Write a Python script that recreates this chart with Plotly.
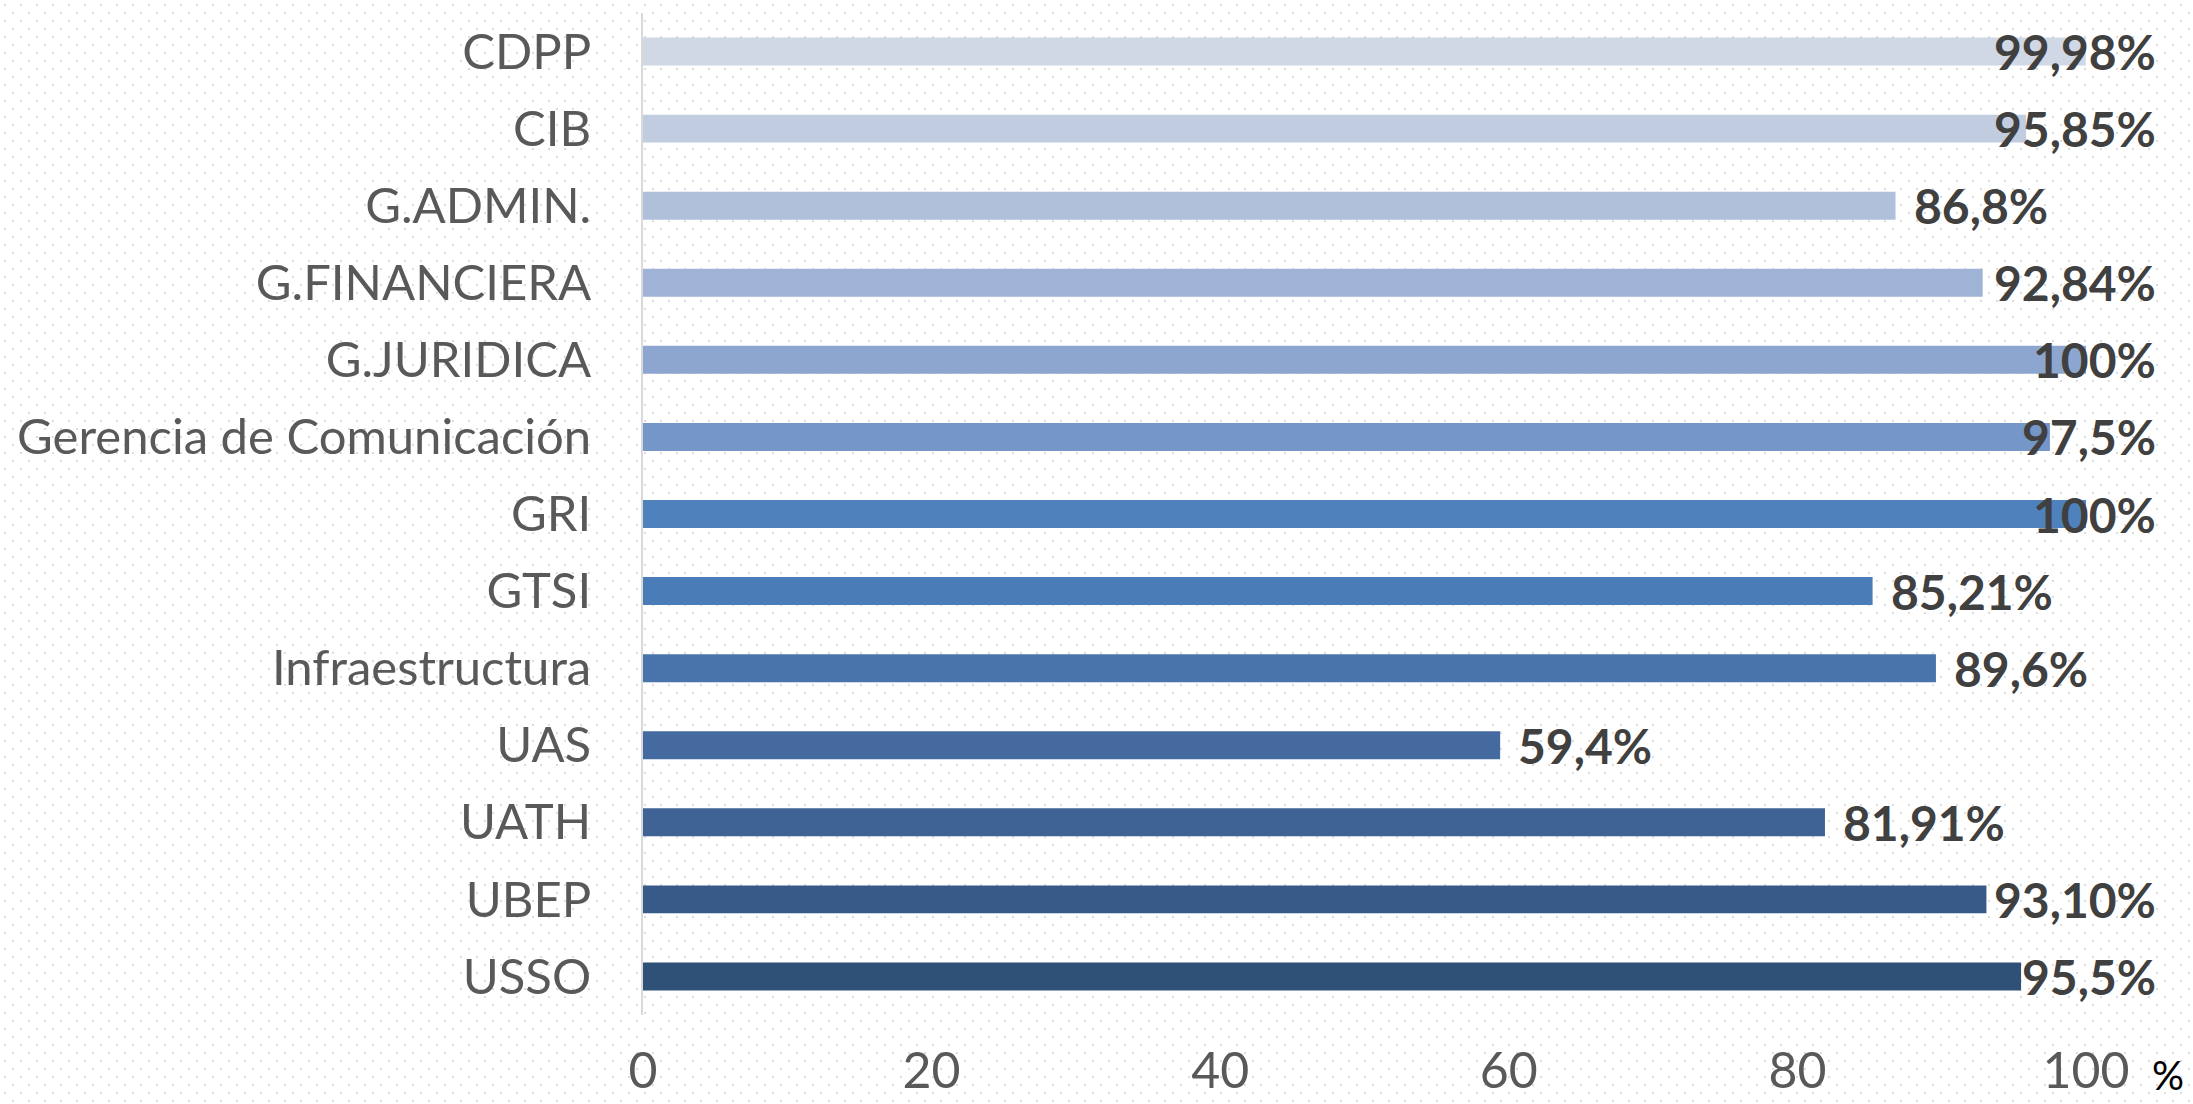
import base64
import plotly.graph_objects as go

# unidades, de arriba hacia abajo
unidades = ["CDPP", "CIB", "G.ADMIN.", "G.FINANCIERA", "G.JURIDICA",
            "Gerencia de Comunicación", "GRI", "GTSI", "Infraestructura",
            "UAS", "UATH", "UBEP", "USSO"]
valores = [99.98, 95.85, 86.8, 92.84, 100, 97.5, 100, 85.21, 89.6, 59.4, 81.91, 93.10, 95.5]
etiquetas = ["99,98%", "95,85%", "86,8%", "92,84%", "100%", "97,5%", "100%",
             "85,21%", "89,6%", "59,4%", "81,91%", "93,10%", "95,5%"]
colores = ["#D0D7E5", "#C2CCE0", "#B0C0DB", "#9FB3D6", "#8DA6CF", "#7496C8", "#4F81BD",
           "#4A7CB7", "#4874AB", "#446A9F", "#3E6394", "#385A88", "#2F5077"]
ticks_x = [0, 20, 40, 60, 80, 100]

W, H = 2193, 1104
ml, mr, mt, mb = 643, 107, 13, 89
plot_w = W - ml - mr
px_unit = plot_w / 100.0
limite = 2158 - ml  # borde derecho de las etiquetas

# fondo punteado
svg = (f'<svg xmlns="http://www.w3.org/2000/svg" width="{W}" height="{H}">'
       '<defs><pattern id="p" width="16" height="16" patternUnits="userSpaceOnUse">'
       '<rect x="4" y="4" width="2" height="2" fill="#DCDCDC"/>'
       '<rect x="12" y="12" width="2" height="2" fill="#DCDCDC"/>'
       '</pattern></defs><rect width="100%" height="100%" fill="url(#p)"/></svg>')
fondo = "data:image/svg+xml;base64," + base64.b64encode(svg.encode()).decode()

fig = go.Figure()
fig.add_trace(go.Bar(
    x=valores, y=unidades, orientation="h", width=0.363,
    marker=dict(color=colores, line=dict(width=0)),
    hoverinfo="skip", showlegend=False,
))

# etiquetas de datos: fuera de la barra, recortadas al borde derecho
for v, u, t in zip(valores, unidades, etiquetas):
    ancho = 27.8 * sum(c.isdigit() for c in t) + 12.5 * t.count(",") + 40
    if v * px_unit + 16 + ancho > limite:
        fig.add_annotation(x=limite / plot_w, xref="paper", y=u, text=t, xanchor="right",
                           showarrow=False, yanchor="middle")
    else:
        fig.add_annotation(x=v, y=u, text=t, xanchor="left", xshift=16,
                           showarrow=False, yanchor="middle")
fig.update_annotations(font=dict(family="Lato", size=48, color="#404040", weight="bold"))

fig.add_annotation(x=1, y=0, xref="paper", yref="paper", text="%", showarrow=False,
                   xanchor="center", yanchor="middle", xshift=82, yshift=-60,
                   font=dict(family="Lato", size=40, color="#000000"))

fig.update_layout(
    width=W, height=H, autosize=False,
    margin=dict(l=ml, r=mr, t=mt, b=mb, pad=0),
    paper_bgcolor="white", plot_bgcolor="rgba(0,0,0,0)",
    images=[dict(source=fondo, xref="paper", yref="paper",
                 x=-ml / plot_w, y=1 + mt / (H - mt - mb),
                 sizex=W / plot_w, sizey=H / (H - mt - mb),
                 xanchor="left", yanchor="top", sizing="stretch", layer="below")],
    xaxis=dict(range=[0, 100], tickvals=ticks_x, showgrid=False, zeroline=False,
               showline=False, ticks="", ticklabelstandoff=22, automargin=False,
               tickfont=dict(family="Lato", size=50, color="#595959")),
    yaxis=dict(autorange="reversed", showgrid=False, zeroline=False,
               showline=True, linecolor="#D9D9D9", linewidth=2, ticks="",
               ticklabelstandoff=40, automargin=False,
               tickfont=dict(family="Lato", size=49, color="#595959")),
)

fig.write_html("out.html", config={"displayModeBar": False},
               post_script="document.body.style.margin='0';")
